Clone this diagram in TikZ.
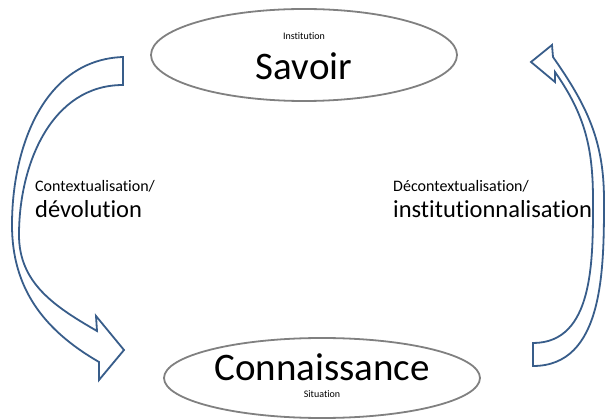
\documentclass[tikz,border=0pt]{standalone}
\usepackage{fontspec}
\setmainfont[RawFeature={-liga}]{Carlito}
\usetikzlibrary{shapes.geometric,positioning}
\definecolor{bordbleu}{RGB}{56,93,138}
\definecolor{bordgris}{RGB}{128,128,128}

\begin{document}
\begin{tikzpicture}[x=1pt,y=1pt,
				etat/.style={draw=bordgris,line width=1.8pt,ellipse,inner sep=0pt},
				grand/.style={font=\fontsize{39}{39}\selectfont,anchor=base},
				petit/.style={font=\fontsize{10}{10}\selectfont,anchor=base},
				moyen/.style={font=\fontsize{16}{16}\selectfont,anchor=base west,inner sep=0pt},
				large/.style={font=\fontsize{24.5}{24.5}\selectfont,anchor=base west,inner sep=0pt},
				fleche/.style={draw=bordbleu,line width=1.8pt,line join=miter,fill=white}
				]
				\useasboundingbox (0,0) rectangle (605,418);
				
				% the two states
				\node[etat,minimum width=306pt,minimum height=92pt] (savoir) at (304,363) {};
				\node[grand] (savoirtxt) at (304,338) {Savoir};
				\node[petit] (institution) at (304,378) {Institution};
				
				\node[etat,minimum width=316pt,minimum height=80pt] (connaissance) at (322,40) {};
				\node[grand] (connaissancetxt) at (322,38) {Connaissance};
				\node[petit] (situation) at (322,21) {Situation};
				
				% the labels
				\node[moyen] (contexte) at (35,226) {Contextualisation/};
				\node[large] (devolution) at (35,200) {dévolution};
				\node[moyen] (decontexte) at (393,226) {Décontextualisation/};
				\node[large] (institutionnal) at (393,200) {institutionnalisation};
				
				% the curved arrows
				\draw[fleche] (123,361) to[out=182,in=90] (12,193) to[out=-90,in=150] (99,56)
					-- (99,38) -- (124,68) -- (96,102) -- (97,87)
					to[out=150,in=-90] (19,183) to[out=90,in=180] (123,333) -- cycle;
				\draw[fleche] (533,52) to[out=0,in=-90] (604,218) to[out=90,in=-55] (553,361)
					-- (552,373) -- (531,356) -- (555,336) -- (555,346)
					to[out=-55,in=90] (593,218) to[out=-90,in=0] (533,75) -- cycle;
			\end{tikzpicture}
\end{document}
